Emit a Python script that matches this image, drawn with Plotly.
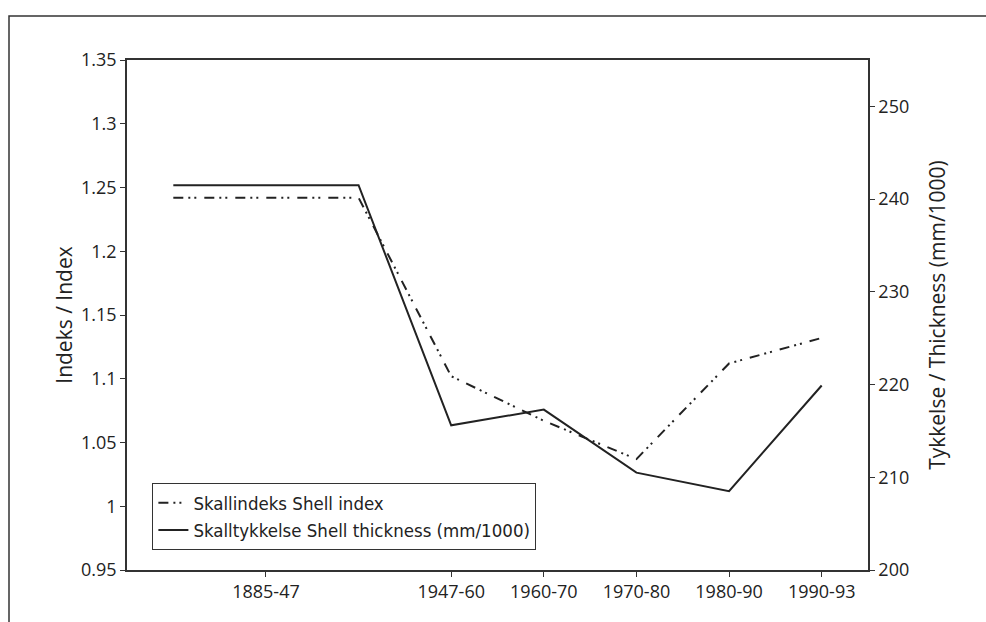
import plotly.graph_objects as go

# ---- data ----
period_labels = ["1885-47", "1947-60", "1960-70", "1970-80", "1980-90", "1990-93"]
period_pos = [0, 2, 3, 4, 5, 6]            # axis position of each period label
line_x = [-1, 1, 2, 3, 4, 5, 6]            # the first period is drawn as a flat span
shell_index = [1.242, 1.242, 1.102, 1.067, 1.037, 1.112, 1.132]
shell_thickness = [241.5, 241.5, 215.6, 217.3, 210.5, 208.5, 219.9]
left_ticks = [0.95, 1.0, 1.05, 1.1, 1.15, 1.2, 1.25, 1.3, 1.35]
right_ticks = [200, 210, 220, 230, 240, 250]

INK = "#222222"
TICKFONT = dict(family="Open Sans, Liberation Sans, sans-serif", size=18, color=INK)
LEGFONT = dict(family="Liberation Sans Narrow, DejaVu Sans Condensed, Roboto Condensed, Liberation Sans, sans-serif",
               size=18.5, color=INK)
TITLEFONT = dict(family="Open Sans, Liberation Sans, sans-serif", size=21, color=INK)

fig = go.Figure()
fig.add_trace(go.Scatter(
    x=line_x, y=shell_index, mode="lines", name="Skallindeks Shell index",
    line=dict(color=INK, width=2, dash="10px,5px,2px,4px,2px,8px"),
    yaxis="y"))
fig.add_trace(go.Scatter(
    x=line_x, y=shell_thickness, mode="lines", name="Skalltykkelse Shell thickness (mm/1000)",
    line=dict(color=INK, width=2),
    yaxis="y2"))

axis_common = dict(showgrid=False, zeroline=False, showline=True, linecolor="#333333",
                   linewidth=1.5, ticks="outside", ticklen=5, tickwidth=1.2, tickcolor="#333333",
                   tickfont=TICKFONT)

fig.update_layout(
    width=986, height=622,
    margin=dict(l=127, r=118, t=60, b=52),
    paper_bgcolor="white", plot_bgcolor="white",
    showlegend=True,
    legend=dict(x=0.034, y=0.039, xanchor="left", yanchor="bottom",
                bgcolor="white", bordercolor="#333333", borderwidth=1.2,
                font=LEGFONT, tracegroupgap=0, itemwidth=30),
    xaxis=dict(range=[-1.5, 6.5], tickmode="array", tickvals=period_pos, ticktext=period_labels,
               mirror=True, **axis_common),
    yaxis=dict(range=[0.95, 1.35], tickmode="array", tickvals=left_ticks,
               ticktext=[f"{v:g}" for v in left_ticks],
               title=dict(text="Indeks / Index", font=TITLEFONT, standoff=3),
               **axis_common),
    yaxis2=dict(range=[200, 255], overlaying="y", side="right", anchor="x",
                tickmode="array", tickvals=right_ticks, ticktext=[str(v) for v in right_ticks],
                title=dict(text="Tykkelse / Thickness (mm/1000)", font=TITLEFONT, standoff=22),
                **axis_common),
    shapes=[dict(type="rect", xref="paper", yref="paper",
                 x0=(9 - 127) / 741, x1=(995 - 127) / 741,
                 y0=(570 - 630) / 510, y1=(570 - 16) / 510,
                 line=dict(color="#333333", width=1.5), fillcolor="rgba(0,0,0,0)", layer="below")],
)

fig.write_html("out.html")
